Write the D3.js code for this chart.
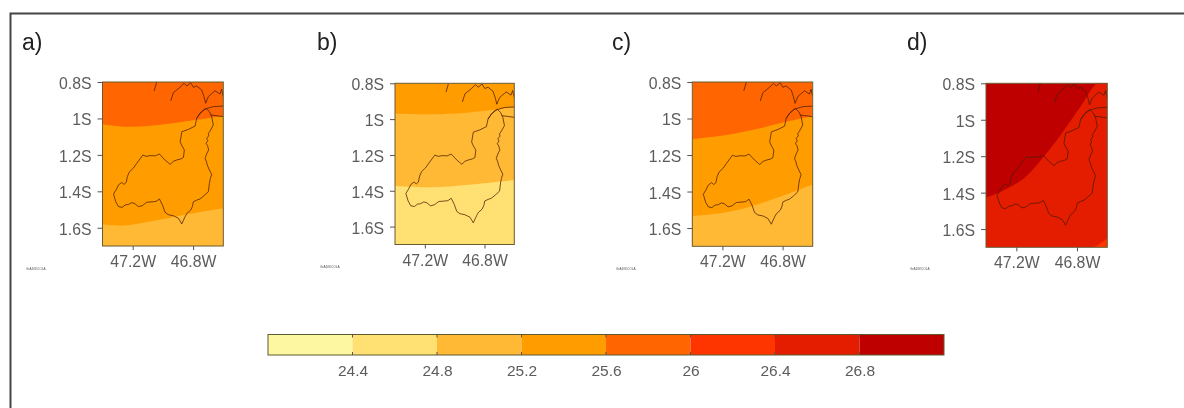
<!DOCTYPE html>
<html><head><meta charset="utf-8">
<script src="https://cdn.jsdelivr.net/npm/d3@7/dist/d3.min.js"></script>
<style>
html,body{margin:0;padding:0;background:#fff;overflow:hidden}
svg{display:block;filter:blur(0.5px)}
text{font-family:"Liberation Sans",Arial,sans-serif}
</style></head><body><svg id="c" width="1184" height="408"></svg>
<script>
// ---------- data (degrees; west and south negative) ----------
const panelLabels = ["a)","b)","c)","d)"];
const latTicks = [-0.8,-1,-1.2,-1.4,-1.6];
const latTickLabels = ["0.8S","1S","1.2S","1.4S","1.6S"];
const lonTicks = [-47.2,-46.8];
const lonTickLabels = ["47.2W","46.8W"];
const creditText = "GrADS/COLA";
const levels = [24.4,24.8,25.2,25.6,26,26.4,26.8];
const levelLabels = ["24.4","24.8","25.2","25.6","26","26.4","26.8"];
const bandColors = ["#fdf7a2","#ffe072","#ffb935","#ff9c00","#ff6500","#ff3500","#e41c00","#bf0000"];

const basin = [[-46.714,-0.945],[-46.692,-0.963],[-46.677,-0.990],[-46.666,-1.036],[-46.684,-1.063],[-46.690,-1.072],[-46.699,-1.082],[-46.696,-1.095],[-46.710,-1.109],[-46.703,-1.122],[-46.714,-1.137],[-46.704,-1.150],[-46.697,-1.173],[-46.708,-1.190],[-46.721,-1.219],[-46.712,-1.236],[-46.706,-1.256],[-46.692,-1.283],[-46.677,-1.307],[-46.686,-1.330],[-46.692,-1.356],[-46.699,-1.402],[-46.728,-1.424],[-46.754,-1.442],[-46.775,-1.448],[-46.798,-1.457],[-46.805,-1.484],[-46.816,-1.503],[-46.840,-1.520],[-46.853,-1.539],[-46.875,-1.579],[-46.897,-1.548],[-46.930,-1.534],[-46.965,-1.528],[-46.986,-1.515],[-47.003,-1.475],[-47.023,-1.442],[-47.045,-1.455],[-47.063,-1.457],[-47.107,-1.460],[-47.135,-1.478],[-47.162,-1.484],[-47.185,-1.468],[-47.206,-1.462],[-47.228,-1.472],[-47.250,-1.475],[-47.270,-1.488],[-47.294,-1.484],[-47.312,-1.457],[-47.327,-1.415],[-47.310,-1.392],[-47.294,-1.365],[-47.272,-1.351],[-47.258,-1.362],[-47.243,-1.351],[-47.235,-1.318],[-47.221,-1.292],[-47.195,-1.272],[-47.173,-1.246],[-47.133,-1.201],[-47.110,-1.208],[-47.085,-1.204],[-47.050,-1.205],[-47.023,-1.195],[-46.986,-1.228],[-46.952,-1.252],[-46.930,-1.235],[-46.908,-1.228],[-46.880,-1.222],[-46.864,-1.214],[-46.858,-1.173],[-46.874,-1.150],[-46.886,-1.128],[-46.880,-1.100],[-46.875,-1.073],[-46.831,-1.060],[-46.787,-1.042],[-46.776,-0.999],[-46.754,-0.972],[-46.714,-0.945]];
const coastA = [[-47.041,-0.800],[-47.058,-0.849]];
const coastB = [[-46.948,-0.904],[-46.931,-0.859],[-46.887,-0.829],[-46.860,-0.807],[-46.842,-0.822],[-46.816,-0.804],[-46.798,-0.829],[-46.776,-0.822],[-46.743,-0.844],[-46.728,-0.880],[-46.717,-0.917],[-46.699,-0.880],[-46.655,-0.848],[-46.622,-0.866],[-46.611,-0.840],[-46.600,-0.880]];
const coastC = [[-46.776,-0.999],[-46.754,-0.972],[-46.728,-0.950],[-46.666,-0.935],[-46.600,-0.932]];
const coastD = [[-46.684,-0.981],[-46.644,-0.985],[-46.600,-0.990]];

const fieldA = [{band:4,line:[[-47.4,-0.8],[-46.6,-0.8]]},
  {band:3,line:[[-47.4,-1.032],[-47.261,-1.045],[-47.085,-1.040],[-46.864,-1.018],[-46.6,-0.987]]},
  {band:2,line:[[-47.4,-1.581],[-47.261,-1.588],[-47.085,-1.566],[-46.864,-1.530],[-46.6,-1.493]]}];
const fieldB = [{band:3,line:[[-47.4,-0.8],[-46.6,-0.8]]},
  {band:2,line:[[-47.4,-0.968],[-47.143,-0.973],[-46.92,-0.964],[-46.6,-0.934]]},
  {band:1,line:[[-47.4,-1.374],[-47.143,-1.381],[-46.92,-1.368],[-46.6,-1.340]]}];
const fieldC = [{band:4,line:[[-47.4,-0.8],[-46.6,-0.8]]},
  {band:3,line:[[-47.4,-1.112],[-47.172,-1.090],[-46.95,-1.054],[-46.773,-1.017],[-46.6,-0.986]]},
  {band:2,line:[[-47.4,-1.534],[-47.216,-1.519],[-47.017,-1.483],[-46.817,-1.428],[-46.6,-1.361]]}];
const fieldD = [{band:7,line:[[-47.4,-0.8],[-46.6,-0.8]]},
  {band:6,line:[[-47.4,-1.426],[-47.303,-1.395],[-47.149,-1.321],[-47.018,-1.202],[-46.908,-1.084],[-46.776,-0.928],[-46.666,-0.8],[-46.6,-0.8]]},
  {band:5,line:[[-46.699,-1.7],[-46.655,-1.684],[-46.6,-1.651]]}];
const fields = [fieldA,fieldB,fieldC,fieldD];

// ---------- layout ----------
const lonDomain=[-47.4,-46.6], latDomain=[-0.8,-1.7];
const boxes=[{l:102.5,r:223.3,t:82,b:246,lx:22,ly:50,cx:26,cy:270},
             {l:395,r:514.3,t:83.3,b:244.5,lx:317,ly:50,cx:320,cy:268},
             {l:692.3,r:812.7,t:82,b:246.3,lx:612,ly:50,cx:616,cy:270},
             {l:986,r:1107.3,t:83.3,b:247.3,lx:907,ly:50,cx:910,cy:270}];
const svg=d3.select("#c");
svg.append("path").attr("d","M10.5,408V13.5H1184").attr("fill","none").attr("stroke","#444").attr("stroke-width",2);

function squeeze(sel,f){sel.each(function(){
  const w=this.getComputedTextLength();
  d3.select(this).attr("textLength",w*f).attr("lengthAdjust","spacingAndGlyphs");});}

fields.forEach((field,i)=>{
  const b=boxes[i];
  const x=d3.scaleLinear().domain(lonDomain).range([b.l,b.r]);
  const y=d3.scaleLinear().domain(latDomain).range([b.t,b.b]);
  const g=svg.append("g");
  const cid="clip"+i;
  svg.append("clipPath").attr("id",cid).append("rect").attr("x",b.l).attr("y",b.t).attr("width",b.r-b.l).attr("height",b.b-b.t);
  const plot=g.append("g").attr("clip-path",`url(#${cid})`);
  const area=d3.area().x(d=>x(d[0])).y0(y(latDomain[1])).y1(d=>y(d[1])).curve(d3.curveCatmullRom);
  plot.selectAll("path.band").data(field).join("path").attr("class","band")
    .attr("d",d=>area(d.line)).attr("fill",d=>bandColors[d.band]);
  const line=d3.line().x(d=>x(d[0])).y(d=>y(d[1]));
  plot.selectAll("path.geo").data([basin,coastA,coastB,coastC,coastD]).join("path").attr("class","geo")
    .attr("d",line).attr("fill","none").attr("stroke","#4a1e00").attr("stroke-opacity",.75).attr("stroke-width",1);
  g.append("rect").attr("x",b.l).attr("y",b.t).attr("width",b.r-b.l).attr("height",b.b-b.t)
    .attr("fill","none").attr("stroke","#6b5a30").attr("stroke-width",1);
  const ax=g.append("g").attr("transform",`translate(${b.l},0)`)
    .call(d3.axisLeft(y).tickValues(latTicks).tickFormat((d,j)=>latTickLabels[j]).tickSize(5).tickPadding(6));
  const bx=g.append("g").attr("transform",`translate(0,${b.b})`)
    .call(d3.axisBottom(x).tickValues(lonTicks).tickFormat((d,j)=>lonTickLabels[j]).tickSize(4).tickPadding(5));
  [ax,bx].forEach(a=>{a.select(".domain").remove();
    a.selectAll("line").attr("stroke","#555");
    a.selectAll("text").attr("font-size",17).attr("fill","#5c5c5c").call(squeeze,.93);});
  ax.selectAll("text").attr("dy","0.38em");
  svg.append("text").attr("x",b.lx).attr("y",b.ly).attr("font-size",23).attr("fill","#222").text(panelLabels[i]);
  svg.append("text").attr("x",b.cx).attr("y",b.cy).attr("font-size",3.2).attr("fill","#555").text(creditText);
});

// colour bar
const cb=d3.scaleLinear().domain([24,27.2]).range([268,944]);
const edges=[24,...levels,27.2];
const barT=334.5,barB=355;
const cg=svg.append("g");
cg.selectAll("rect").data(bandColors).join("rect")
  .attr("x",(d,i)=>cb(edges[i])).attr("y",barT).attr("width",(d,i)=>cb(edges[i+1])-cb(edges[i])).attr("height",barB-barT).attr("fill",d=>d);
cg.append("rect").attr("x",cb(24)).attr("y",barT).attr("width",cb(27.2)-cb(24)).attr("height",barB-barT).attr("fill","none").attr("stroke","#5e5a30");
const ca=cg.append("g").attr("transform",`translate(0,${barB})`)
  .call(d3.axisBottom(cb).tickValues(levels).tickFormat((d,j)=>levelLabels[j]).tickSize(0).tickPadding(10));
ca.select(".domain").remove();
ca.selectAll("text").attr("font-size",15.5).attr("fill","#5c5c5c");
cg.selectAll("line.edge").data(levels).join("line").attr("class","edge")
  .attr("x1",d=>cb(d)).attr("x2",d=>cb(d)).attr("y1",barT).attr("y2",barB).attr("stroke","#555").attr("stroke-dasharray","3 14.5");
</script></body></html>
